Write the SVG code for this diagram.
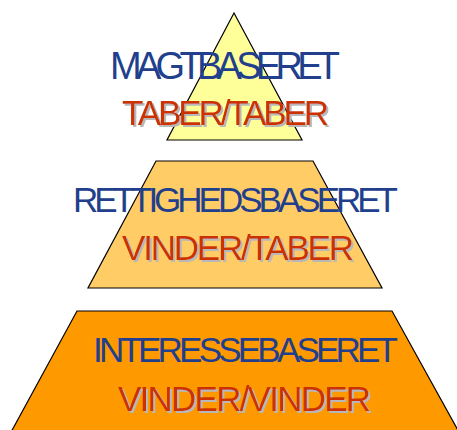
<svg xmlns="http://www.w3.org/2000/svg" width="457" height="430" viewBox="0 0 457 430">
<defs>
<filter id="shadow" x="-5%" y="-20%" width="115%" height="150%">
<feOffset in="SourceAlpha" dx="2" dy="2" result="off"/>
<feFlood flood-color="#B8B8B8"/>
<feComposite in2="off" operator="in" result="sh"/>
<feMerge><feMergeNode in="sh"/><feMergeNode in="SourceGraphic"/></feMerge>
</filter>
</defs>
<style>
.shape{stroke:#000;stroke-width:1.2;stroke-linejoin:miter}
.t{font-family:"Liberation Sans",Arial,sans-serif;font-size:35px}
.blue{fill:#213F8C}
.red{fill:#CC3300;filter:url(#shadow)}
</style>
<rect width="457" height="430" fill="#fff"/>
<g id="connectors"/>
<g id="level3">
<polygon class="shape" points="77,311 392,311 460,434 10,434" fill="#FF9900"/>
<text class="t blue" x="93" y="362" textLength="305" lengthAdjust="spacing">INTERESSEBASERET</text>
<text class="t red" x="118" y="411" textLength="253" lengthAdjust="spacing">VINDER/VINDER</text>
</g>
<g id="level2">
<polygon class="shape" points="156,161 313,161 382,288 88,288" fill="#FFCC66"/>
<text class="t blue" x="73" y="212" textLength="325" lengthAdjust="spacing">RETTIGHEDSBASERET</text>
<text class="t red" x="122" y="260" textLength="232" lengthAdjust="spacing">VINDER/TABER</text>
</g>
<g id="level1">
<polygon class="shape" points="234,13 302,140 167,140" fill="#FFFF99"/>
<text class="t blue" x="110" y="79" style="font-size:38px" textLength="230" lengthAdjust="spacing">MAGTBASERET</text>
<text class="t red" x="122" y="125" textLength="207" lengthAdjust="spacing">TABER/TABER</text>
</g>
</svg>
